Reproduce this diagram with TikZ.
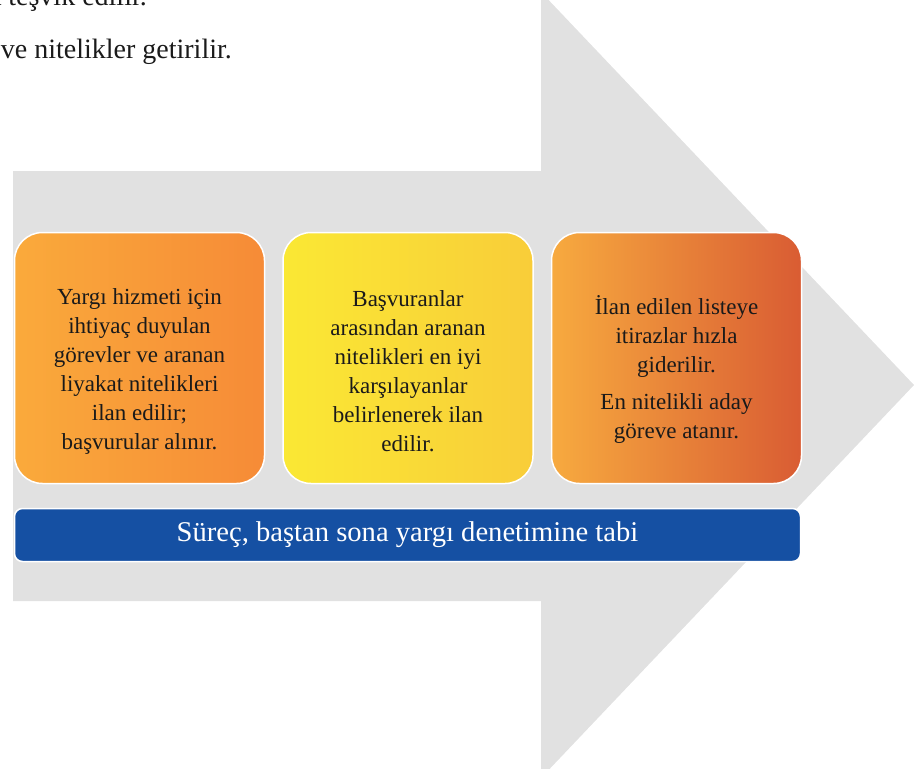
\documentclass[tikz,border=0pt]{standalone}
\usepackage{fontspec}
\setmainfont{Liberation Serif}
\usetikzlibrary{positioning}

\definecolor{okgri}{HTML}{E1E1E1}
\definecolor{metin}{HTML}{1A1A1A}
\definecolor{koyumavi}{HTML}{1550A3}
\definecolor{turuncuA}{HTML}{FAAA3B}
\definecolor{turuncuB}{HTML}{F68B37}
\definecolor{sariA}{HTML}{FAE834}
\definecolor{sariB}{HTML}{F9CD39}
\definecolor{kiremitA}{HTML}{F7AA3F}
\definecolor{kiremitB}{HTML}{D95C33}

\newcommand{\kutubasi}{\rule{0pt}{42pt}}

\begin{document}
\begin{tikzpicture}[x = 1pt, y = -1pt,
        adim/.style = {draw = white, line width = 1.5pt, rounded corners = 28pt,
            minimum width = 250pt, minimum height = 251pt, inner sep = 0pt,
            align = center, text = metin, font = \fontsize{23}{29}\selectfont},
        serit/.style = {draw = white, line width = 1.5pt, rounded corners = 8pt,
            fill = koyumavi, minimum width = 786pt, minimum height = 53pt,
            text = white, font = \fontsize{28.6}{32}\selectfont},
        yazi/.style = {anchor = base east, inner sep = 0pt, text = metin,
            font = \fontsize{28}{32}\selectfont}]
        \useasboundingbox (0,0) rectangle (914,769);

        \fill [okgri]
        (13,171) -- (541,171) -- (541,-8) -- (914,385) --
        (541,778) -- (541,601) -- (13,601) -- cycle;

        \node (ust1) [yazi] at (147,5) {k teşvik edilir.};
        \node (ust2) [yazi] at (232,58) {ve nitelikler getirilir.};

        \node (ilan) [adim, left color = turuncuA, right color = turuncuB]
        at (139.5,358)
        {\kutubasi Yargı hizmeti için\\ ihtiyaç duyulan\\ görevler ve aranan\\
         liyakat nitelikleri\\ ilan edilir;\\ başvurular alınır.};

        \node (secim) [adim, left color = sariA, right color = sariB,
            right = 17pt of ilan]
        {\kutubasi Başvuranlar\\ arasından aranan\\ nitelikleri en iyi\\
         karşılayanlar\\ belirlenerek ilan\\ edilir.};

        \node (atama) [adim, left color = kiremitA, right color = kiremitB,
            right = 17pt of secim]
        {\kutubasi İlan edilen listeye\\ itirazlar hızla\\ giderilir.\\[8pt]
         En nitelikli aday\\ göreve atanır.};

        \node (denetim) [serit] at (407.5,535)
        {Süreç, baştan sona yargı denetimine tabi};
    \end{tikzpicture}
\end{document}
